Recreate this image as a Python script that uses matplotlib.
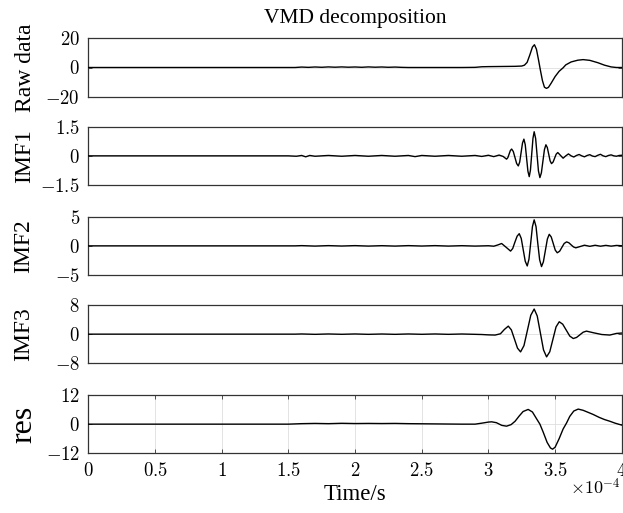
import matplotlib
matplotlib.use("Agg")
import matplotlib.pyplot as plt

plt.rcParams["font.family"] = ["Liberation Serif", "DejaVu Serif"]
plt.rcParams["mathtext.fontset"] = "cm"

# ---- data: (time in 1e-4 s, value) ----
raw_data = [(0, 0), (1.55, 0), (1.6, 0.3), (1.65, 0.1), (1.7, 0.35), (1.75, 0.15), (1.8, 0.4),
            (1.85, 0.2), (1.9, 0.4), (1.95, 0.2), (2.0, 0.35), (2.05, 0.15), (2.1, 0.4), (2.15, 0.2),
            (2.2, 0.35), (2.25, 0.15), (2.3, 0.3), (2.35, 0.1), (2.4, 0), (2.6, 0), (2.8, 0), (2.9, 0.1),
            (2.95, 0.5), (3.0, 0.6), (3.1, 0.7), (3.2, 0.8), (3.25, 1.0), (3.27, 1.6), (3.29, 3.5),
            (3.31, 8.5), (3.33, 14.0), (3.345, 15.6), (3.36, 12.5), (3.375, 5.5), (3.39, -2.0),
            (3.405, -9.0), (3.42, -13.5), (3.435, -14.3), (3.45, -13.6), (3.47, -10.8), (3.5, -6.2),
            (3.53, -2.6), (3.56, -0.2), (3.58, 1.8), (3.62, 3.8), (3.67, 5.0), (3.71, 5.4), (3.76, 4.9),
            (3.82, 3.3), (3.87, 1.6), (3.92, 0.4), (3.96, 0.0), (4.0, 0.0)]

imf1 = [(0, 0), (1.5, 0), (1.56, -0.02), (1.6, 0.02), (1.63, -0.05), (1.66, 0.02), (1.7, -0.02),
        (1.8, 0.02), (1.9, -0.02), (2.0, 0.02), (2.1, -0.02), (2.2, 0.02), (2.3, -0.02), (2.4, 0.02),
        (2.45, -0.04), (2.5, 0.02), (2.6, -0.02), (2.7, 0.02), (2.8, -0.02), (2.9, 0.02), (2.95, -0.03),
        (3.0, 0.03), (3.04, -0.04), (3.08, 0.04), (3.11, -0.03), (3.136, -0.17), (3.1455, -0.094),
        (3.155, 0.09), (3.1645, 0.274), (3.174, 0.35), (3.1865, 0.223), (3.199, -0.085), (3.2115, -0.393),
        (3.224, -0.52), (3.2345, -0.319), (3.245, 0.17), (3.2555, 0.659), (3.266, 0.86), (3.276, 0.578),
        (3.286, -0.105), (3.296, -0.788), (3.306, -1.07), (3.315, -0.733), (3.3245, 0.085), (3.334, 0.903),
        (3.343, 1.24), (3.354, 0.895), (3.3645, 0.06), (3.375, -0.775), (3.386, -1.12), (3.397, -0.873),
        (3.4085, -0.275), (3.42, 0.323), (3.431, 0.57), (3.4415, 0.428), (3.452, 0.085), (3.4625, -0.258),
        (3.473, -0.4), (3.485, -0.317), (3.4965, -0.115), (3.508, 0.087), (3.52, 0.17), (3.54, 0.025),
        (3.56, -0.12), (3.58, 0.0), (3.6, 0.1), (3.62, 0.0), (3.64, -0.06), (3.66, 0.02), (3.68, 0.07),
        (3.7, 0.0), (3.72, -0.05), (3.74, 0.02), (3.76, 0.06), (3.78, -0.01), (3.8, -0.04), (3.82, 0.03),
        (3.84, 0.08), (3.86, 0.0), (3.88, -0.04), (3.9, 0.02), (3.92, 0.05), (3.94, 0.0), (3.96, -0.02),
        (3.98, 0.02), (4.0, 0.03)]

imf2 = [(0, 0), (1.55, 0), (1.6, 0.04), (1.7, -0.04), (1.8, 0.04), (1.9, -0.03), (2.0, 0.04), (2.1, -0.04),
        (2.2, 0.03), (2.3, -0.04), (2.4, 0.04), (2.5, -0.03), (2.6, 0.04), (2.7, -0.04), (2.8, 0.03),
        (2.9, -0.04), (3.0, 0.02), (3.04, -0.06), (3.07, 0.15), (3.099, 0.4), (3.133, -0.25), (3.166, -0.9),
        (3.182, -0.46), (3.198, 0.6), (3.215, 1.65), (3.231, 2.09), (3.246, 1.28), (3.261, -0.68),
        (3.276, -2.64), (3.291, -3.45), (3.304, -2.29), (3.317, 0.5), (3.33, 3.3), (3.343, 4.46),
        (3.357, 3.29), (3.37, 0.45), (3.384, -2.39), (3.398, -3.56), (3.412, -2.75), (3.427, -0.79),
        (3.442, 1.17), (3.456, 1.98), (3.471, 1.52), (3.486, 0.4), (3.501, -0.73), (3.516, -1.19),
        (3.534, -0.92), (3.551, -0.25), (3.568, 0.41), (3.586, 0.68), (3.603, 0.53), (3.62, 0.17),
        (3.638, -0.19), (3.655, -0.34), (3.69, -0.1), (3.72, 0.11), (3.76, -0.08), (3.8, 0.1),
        (3.84, -0.06), (3.88, 0.08), (3.92, -0.05), (3.96, 0.07), (4.0, 0.02)]

imf3 = [(0, 0), (1.55, 0), (1.6, 0.05), (1.7, -0.05), (1.8, 0.05), (1.9, -0.04), (2.0, 0.05), (2.1, -0.05),
        (2.2, 0.04), (2.3, -0.05), (2.4, 0.05), (2.5, -0.04), (2.6, 0.05), (2.7, -0.05), (2.8, 0.04),
        (2.9, -0.05), (2.95, -0.1), (3.0, -0.2), (3.05, -0.25), (3.09, 0.1), (3.12, 1.3), (3.149, 2.2),
        (3.172, 1.17), (3.195, -1.33), (3.218, -3.84), (3.241, -4.87), (3.2665, -3.15), (3.292, 1.0),
        (3.3175, 5.18), (3.343, 6.9), (3.366, 4.98), (3.3895, 0.33), (3.413, -4.32), (3.436, -6.24),
        (3.46, -4.83), (3.4835, -1.42), (3.507, 1.99), (3.531, 3.4), (3.557, 2.73), (3.5835, 1.1),
        (3.61, -0.53), (3.636, -1.2), (3.661, -0.9), (3.6855, -0.19), (3.71, 0.53), (3.735, 0.83),
        (3.79, 0.36), (3.85, -0.1), (3.91, -0.25), (3.96, 0.2), (4.0, 0.3)]

res = [(0, 0), (1.5, 0), (1.55, 0.1), (1.6, 0.2), (1.7, 0.3), (1.8, 0.2), (1.9, 0.35), (2.0, 0.25),
       (2.1, 0.3), (2.2, 0.25), (2.3, 0.3), (2.4, 0.2), (2.5, 0.15), (2.6, 0.1), (2.7, 0.05), (2.8, 0.0),
       (2.9, 0.0), (2.95, 0.4), (3.0, 0.85), (3.024, 0.96), (3.06, 0.6), (3.1, -0.5), (3.136, -0.83),
       (3.17, -0.2), (3.2, 1.2), (3.23, 3.3), (3.26, 5.2), (3.298, 6.06), (3.33, 5.0), (3.36, 2.3),
       (3.386, 0.0), (3.41, -3.2), (3.44, -7.5), (3.465, -9.8), (3.481, -10.3), (3.5, -9.5), (3.53, -6.0),
       (3.56, -2.0), (3.586, 0.5), (3.61, 3.2), (3.64, 5.4), (3.673, 6.2), (3.71, 5.7), (3.75, 4.8),
       (3.785, 4.0), (3.83, 2.8), (3.87, 1.9), (3.91, 1.2), (3.95, 0.4), (4.0, -0.4)]

series_names = ["Raw data", "IMF1", "IMF2", "IMF3", "res"]
series_data = [raw_data, imf1, imf2, imf3, res]
y_limits = [20, 1.5, 5, 8, 12]
y_tick_labels = [["-20", "0", "20"], ["-1.5", "0", "1.5"], ["-5", "0", "5"],
                 ["-8", "0", "8"], ["-12", "0", "12"]]
x_ticks = [0, 0.5, 1, 1.5, 2, 2.5, 3, 3.5, 4]
x_tick_labels = ["0", "0.5", "1", "1.5", "2", "2.5", "3", "3.5", "4"]

# ---- layout (pixels) ----
W, H = 623, 513
fig = plt.figure(figsize=(W / 100, H / 100), dpi=100)
left_px, right_px = 88.3, 621.8
panels_px = [(38.3, 96.7), (126.7, 185.0), (216.7, 275.0), (305.0, 363.3), (395.0, 453.3)]
label_sizes = [17, 17, 17, 17, 23]
label_x_px = [26, 25, 24, 24, 24]

for i, (name, data, lim, ylabs, (top, bot)) in enumerate(
        zip(series_names, series_data, y_limits, y_tick_labels, panels_px)):
    ax = fig.add_axes([left_px / W, 1 - bot / H, (right_px - left_px) / W, (bot - top) / H])
    t = [p[0] for p in data]
    v = [p[1] for p in data]
    ax.plot(t, v, color="black", lw=1.0, zorder=3)
    ax.set_xlim(0, 4)
    ax.set_ylim(-lim, lim)
    ax.set_yticks([-lim, 0, lim])
    ax.set_yticklabels(["$" + s + "$" for s in ylabs])
    if i < 4:
        ax.set_xticks([])
    else:
        ax.set_xticks(x_ticks)
        ax.set_xticklabels(["$" + s + "$" for s in x_tick_labels])
    ax.grid(True, color="0.87", lw=0.6, zorder=0)
    ax.tick_params(direction="in", length=3, width=0.6, labelsize=13.5, pad=6,
                   top=True, right=True, color="0.2")
    for sp in ax.spines.values():
        sp.set_color("0.2")
        sp.set_linewidth(0.9)
    fig.text(label_x_px[i] / W, 1 - (top + bot) / 2 / H, name, rotation=90,
             ha="center", va="center", fontsize=label_sizes[i])

fig.text((left_px + right_px) / 2 / W, 1 - 18 / H, "VMD decomposition",
         ha="center", va="center", fontsize=15.5)
fig.text((left_px + right_px) / 2 / W, 1 - 494 / H, "Time/s",
         ha="center", va="center", fontsize=16.5)
fig.text(621 / W, 1 - 488 / H, r"$\times10^{-4}$", ha="right", va="center", fontsize=13)

fig.savefig("out.png", dpi=100)
